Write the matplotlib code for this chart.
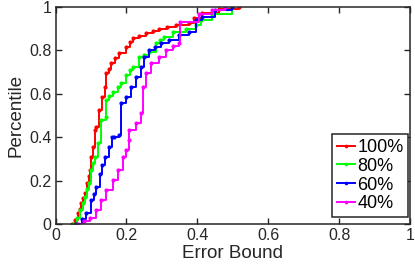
import matplotlib
matplotlib.use("Agg")
import matplotlib.pyplot as plt

# CDF of error bound (x = error bound, y = percentile)
x_100 = [0.047, 0.055, 0.063, 0.068, 0.073, 0.078, 0.082, 0.089, 0.093, 0.096, 0.101,
         0.105, 0.110, 0.115, 0.122, 0.132, 0.138, 0.143, 0.150, 0.157, 0.168, 0.180,
         0.199, 0.210, 0.218, 0.235, 0.255, 0.275, 0.292, 0.315, 0.339, 0.376, 0.390,
         0.413, 0.460, 0.517]
y_100 = [0.0, 0.02, 0.049, 0.07, 0.095, 0.12, 0.141, 0.188, 0.22, 0.249, 0.31,
         0.356, 0.433, 0.448, 0.525, 0.587, 0.633, 0.694, 0.715, 0.74, 0.765, 0.787,
         0.817, 0.84, 0.856, 0.868, 0.879, 0.89, 0.90, 0.91, 0.917, 0.928, 0.95,
         0.971, 0.99, 1.0]

x_80 = [0.049, 0.060, 0.070, 0.076, 0.082, 0.089, 0.094, 0.101, 0.105, 0.110, 0.119,
        0.129, 0.141, 0.143, 0.150, 0.162, 0.175, 0.185, 0.199, 0.210, 0.218, 0.236,
        0.250, 0.264, 0.283, 0.295, 0.306, 0.330, 0.367, 0.395, 0.410, 0.441, 0.497]
y_80 = [0.0, 0.03, 0.065, 0.095, 0.126, 0.16, 0.188, 0.249, 0.28, 0.31, 0.372,
        0.479, 0.494, 0.571, 0.59, 0.61, 0.63, 0.648, 0.687, 0.71, 0.725, 0.771,
        0.78, 0.794, 0.833, 0.85, 0.863, 0.886, 0.90, 0.917, 0.94, 0.97, 1.0]

x_60 = [0.057, 0.075, 0.087, 0.101, 0.108, 0.115, 0.124, 0.130, 0.138, 0.152, 0.160,
        0.166, 0.180, 0.185, 0.199, 0.213, 0.227, 0.241, 0.250, 0.264, 0.280, 0.297,
        0.320, 0.348, 0.376, 0.395, 0.413, 0.451, 0.497]
y_60 = [0.0, 0.025, 0.049, 0.11, 0.14, 0.172, 0.233, 0.27, 0.31, 0.356, 0.40,
        0.402, 0.41, 0.556, 0.587, 0.633, 0.679, 0.725, 0.771, 0.80, 0.815, 0.833,
        0.848, 0.871, 0.886, 0.94, 0.955, 0.986, 1.0]

x_40 = [0.063, 0.080, 0.096, 0.115, 0.129, 0.143, 0.162, 0.176, 0.190, 0.199, 0.206,
        0.208, 0.227, 0.241, 0.246, 0.255, 0.269, 0.292, 0.311, 0.330, 0.348, 0.350,
        0.405, 0.440, 0.479]
y_40 = [0.0, 0.012, 0.026, 0.065, 0.11, 0.157, 0.203, 0.249, 0.31, 0.341, 0.387,
        0.433, 0.464, 0.51, 0.633, 0.694, 0.74, 0.771, 0.80, 0.82, 0.833, 0.93,
        0.97, 0.985, 1.0]

labels = ["100%", "80%", "60%", "40%"]
colors = ["#ff0000", "#00ff00", "#0000ff", "#ff00ff"]

plt.rcParams['font.family'] = ['Liberation Sans', 'DejaVu Sans']
axcol = "#262626"

fig = plt.figure(figsize=(4.15, 2.7), dpi=100)
ax = fig.add_axes([0.134, 0.170, 0.854, 0.804])

series = [(x_100, y_100), (x_80, y_80), (x_60, y_60), (x_40, y_40)]
for (xs, ys), lab, c in zip(series, labels, colors):
    ax.plot(xs, ys, drawstyle='steps-post', color=c, lw=1.4,
            marker='.', markersize=4, label=lab)

ax.set_xlim(0, 1)
ax.set_ylim(0, 1)
ticks = [0, 0.2, 0.4, 0.6, 0.8, 1]
ticklabels = ["0", "0.2", "0.4", "0.6", "0.8", "1"]
ax.set_xticks(ticks)
ax.set_xticklabels(ticklabels)
ax.set_yticks(ticks)
ax.set_yticklabels(ticklabels)
ax.tick_params(direction='in', top=True, right=True, length=4, width=1,
               colors=axcol, labelsize=11.5, pad=3)
for s in ax.spines.values():
    s.set_color(axcol)
    s.set_linewidth(1.1)

ax.set_xlabel("Error Bound", fontsize=13.5, color=axcol, labelpad=1)
ax.set_ylabel("Percentile", fontsize=13.5, color=axcol, labelpad=3)

leg = ax.legend(loc='lower right', bbox_to_anchor=(0.995, 0.033), borderaxespad=0,
                fontsize=13, handlelength=1.0, handletextpad=0.15,
                labelspacing=0.1, borderpad=0.25, fancybox=False,
                framealpha=1, edgecolor=axcol, markerscale=0.8)
leg.get_frame().set_linewidth(1.1)

fig.savefig("out.png", dpi=100)
